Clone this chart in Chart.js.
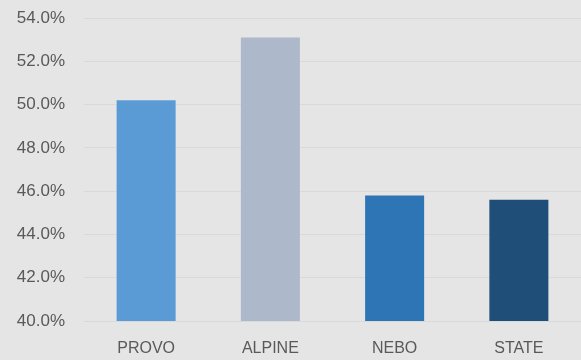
<!DOCTYPE html>
<html>
<head>
<meta charset="utf-8">
<script src="https://cdn.jsdelivr.net/npm/chart.js@4"></script>
<style>
  html, body { margin: 0; padding: 0; background: #e5e5e5; }
  #wrap { width: 581px; height: 360px; position: relative; }
</style>
</head>
<body>
<div id="wrap"><canvas id="district-chart"></canvas></div>
<script>
  const districts = ['PROVO', 'ALPINE', 'NEBO', 'STATE'];
  const rates = [50.2, 53.1, 45.8, 45.6];
  const barColors = ['#5b9bd5', '#adb9ca', '#2e75b6', '#1f4e79'];
  const yMin = 40;
  const yMax = 54;
  const yStep = 2;

  const ctx = document.getElementById('district-chart').getContext('2d');
  window.districtChart = new Chart(ctx, {
    type: 'bar',
    data: {
      labels: districts,
      datasets: [{
        label: 'Rate',
        data: rates,
        backgroundColor: barColors,
        borderWidth: 0,
        categoryPercentage: 1,
        barPercentage: 0.475
      }]
    },
    options: {
      responsive: true,
      maintainAspectRatio: false,
      animation: false,
      layout: { padding: { top: 18, right: 0, left: 0, bottom: 0 } },
      plugins: {
        legend: { display: false },
        tooltip: { enabled: false }
      },
      scales: {
        x: {
          grid: { display: false },
          border: { display: false },
          ticks: {
            color: '#595959',
            font: { family: 'Liberation Sans', size: 16 },
            padding: 10
          },
          afterFit: function(scale) {
            scale.height = 39;
            scale.paddingLeft = 0;
            scale.paddingRight = 0;
          }
        },
        y: {
          min: yMin,
          max: yMax,
          grid: { color: '#d9d9d9', lineWidth: 1, drawTicks: false },
          border: { display: false },
          ticks: {
            stepSize: yStep,
            color: '#595959',
            font: { family: 'Liberation Sans', size: 17 },
            padding: 19,
            callback: v => v.toFixed(1) + '%'
          },
          afterFit: function(scale) {
            scale.width = 84;
            scale.paddingTop = 0;
            scale.paddingBottom = 0;
          }
        }
      }
    }
  });
</script>
</body>
</html>
